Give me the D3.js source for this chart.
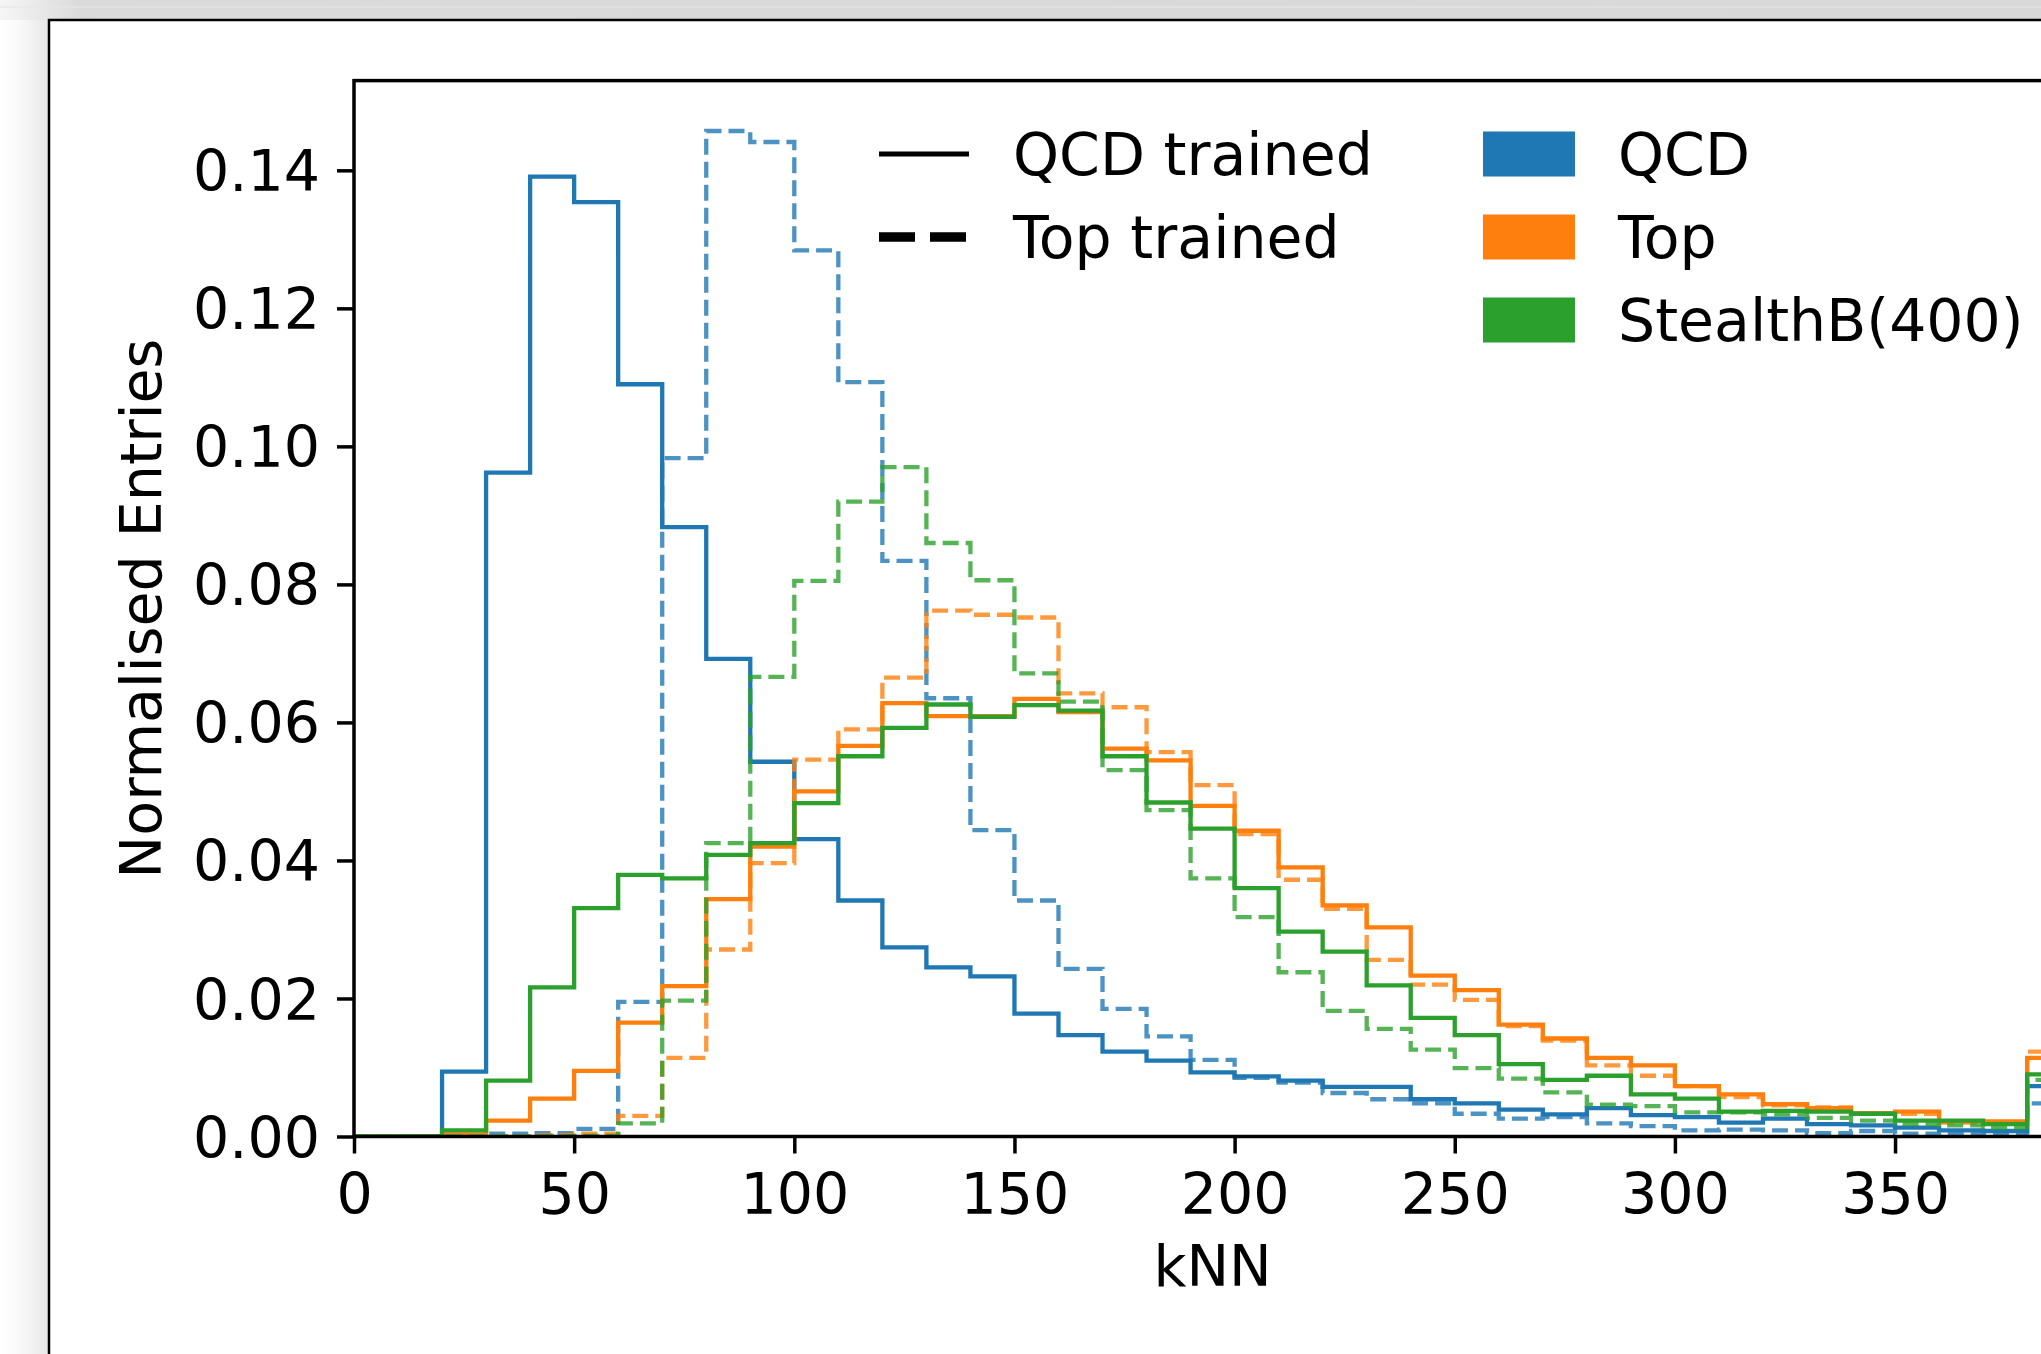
<!DOCTYPE html>
<html>
<head>
<meta charset="utf-8">
<title>kNN distributions</title>
<script src="https://cdn.jsdelivr.net/npm/d3@7"></script>
<style>
  body { margin: 0; background: #ffffff; }
  svg { display: block; font-family: "DejaVu Sans", sans-serif; }
</style>
</head>
<body>
<svg id="chart" width="2041" height="1354"></svg>
<script>
// bin edges of the kNN histograms (10 wide, last one is the overflow bin at 380)
const binEdges = [0, 10, 20, 30, 40, 50, 60, 70, 80, 90, 100, 110, 120, 130, 140, 150, 160, 170, 180, 190,
                  200, 210, 220, 230, 240, 250, 260, 270, 280, 290, 300, 310, 320, 330, 340, 350, 360, 370, 380, 390];

// normalised entries per bin
const qcdQcdTrained = [0, 0, 0.0094, 0.0962, 0.1391, 0.1354, 0.1090, 0.0883, 0.0692, 0.0543,
  0.0431, 0.0342, 0.0274, 0.0245, 0.0232, 0.0178, 0.0147, 0.0123, 0.0110, 0.0093,
  0.0087, 0.0081, 0.0072, 0.0072, 0.0054, 0.0048, 0.0039, 0.0032, 0.0041, 0.0031,
  0.0028, 0.0020, 0.0026, 0.0018, 0.0016, 0.0013, 0.0009, 0.0008, 0.0073];
const qcdTopTrained = [0, 0, 0, 0.0004, 0.0005, 0.0011, 0.0195, 0.0983, 0.1457, 0.1441,
  0.1284, 0.1093, 0.0834, 0.0635, 0.0444, 0.0342, 0.0243, 0.0185, 0.0145, 0.0111,
  0.0085, 0.0078, 0.0063, 0.0054, 0.0048, 0.0033, 0.0026, 0.0028, 0.0019, 0.0015,
  0.0009, 0.0010, 0.0009, 0.0005, 0.0008, 0.0004, 0.0005, 0.0004, 0.0048];
const topQcdTrained = [0, 0, 0.0003, 0.0023, 0.0055, 0.0095, 0.0165, 0.0218, 0.0344, 0.0420,
  0.0500, 0.0566, 0.0628, 0.0609, 0.0609, 0.0634, 0.0615, 0.0562, 0.0545, 0.0479,
  0.0443, 0.0390, 0.0335, 0.0303, 0.0233, 0.0212, 0.0162, 0.0142, 0.0114, 0.0103,
  0.0073, 0.0061, 0.0047, 0.0041, 0.0034, 0.0036, 0.0022, 0.0022, 0.0114];
const topTopTrained = [0, 0, 0, 0, 0.0002, 0.0004, 0.0030, 0.0114, 0.0271, 0.0396,
  0.0546, 0.0590, 0.0665, 0.0762, 0.0756, 0.0752, 0.0642, 0.0622, 0.0557, 0.0509,
  0.0438, 0.0372, 0.0330, 0.0256, 0.0220, 0.0198, 0.0160, 0.0139, 0.0103, 0.0088,
  0.0073, 0.0057, 0.0045, 0.0042, 0.0033, 0.0033, 0.0020, 0.0020, 0.0123];
const stealthQcdTrained = [0, 0, 0.0009, 0.0081, 0.0216, 0.0331, 0.0379, 0.0374, 0.0408, 0.0425,
  0.0483, 0.0551, 0.0592, 0.0626, 0.0608, 0.0625, 0.0617, 0.0551, 0.0484, 0.0446,
  0.0360, 0.0297, 0.0268, 0.0219, 0.0172, 0.0147, 0.0105, 0.0082, 0.0088, 0.0061,
  0.0055, 0.0036, 0.0037, 0.0036, 0.0033, 0.0023, 0.0023, 0.0018, 0.0090];
const stealthTopTrained = [0, 0, 0, 0, 0, 0.0001, 0.0019, 0.0197, 0.0425, 0.0666,
  0.0805, 0.0920, 0.0970, 0.0860, 0.0806, 0.0671, 0.0630, 0.0531, 0.0473, 0.0374,
  0.0318, 0.0238, 0.0182, 0.0156, 0.0126, 0.0099, 0.0084, 0.0064, 0.0046, 0.0044,
  0.0035, 0.0035, 0.0032, 0.0027, 0.0023, 0.0018, 0.0016, 0.0013, 0.0082];

const xTicks = [0, 50, 100, 150, 200, 250, 300, 350];
const yTicks = [0, 0.02, 0.04, 0.06, 0.08, 0.10, 0.12, 0.14];

const sampleNames = ["QCD", "Top", "StealthB(400)"];
const sampleColors = ["#1f77b4", "#ff7f0e", "#2ca02c"];
const trainingNames = ["QCD trained", "Top trained"];

const series = [
  { values: qcdQcdTrained, color: sampleColors[0], dashed: false },
  { values: qcdTopTrained, color: sampleColors[0], dashed: true },
  { values: topQcdTrained, color: sampleColors[1], dashed: false },
  { values: topTopTrained, color: sampleColors[1], dashed: true },
  { values: stealthQcdTrained, color: sampleColors[2], dashed: false },
  { values: stealthTopTrained, color: sampleColors[2], dashed: true }
];

const svg = d3.select("#chart");
const defs = svg.append("defs");

// grey window shadow round the figure panel
const gLeft = defs.append("linearGradient").attr("id", "shadeLeft")
  .attr("x1", 0).attr("x2", 1).attr("y1", 0).attr("y2", 0);
gLeft.append("stop").attr("offset", "0%").attr("stop-color", "#ffffff");
gLeft.append("stop").attr("offset", "35%").attr("stop-color", "#fafafa");
gLeft.append("stop").attr("offset", "100%").attr("stop-color", "#e8e8e8");

const gTop = defs.append("linearGradient").attr("id", "shadeTop")
  .attr("x1", 0).attr("x2", 1).attr("y1", 0).attr("y2", 0);
gTop.append("stop").attr("offset", "0%").attr("stop-color", "#f6f6f6");
gTop.append("stop").attr("offset", "4%").attr("stop-color", "#dadada");
gTop.append("stop").attr("offset", "100%").attr("stop-color", "#d8d8d8");

svg.append("rect").attr("x", 0).attr("y", 0).attr("width", 2041).attr("height", 1354).attr("fill", "#ffffff");
svg.append("rect").attr("x", 0).attr("y", 0).attr("width", 49).attr("height", 1354).attr("fill", "url(#shadeLeft)");
svg.append("rect").attr("x", 0).attr("y", 0).attr("width", 2041).attr("height", 20).attr("fill", "url(#shadeTop)");
svg.append("rect").attr("x", 0).attr("y", 6).attr("width", 2041).attr("height", 2).attr("fill", "#e6e6e6").attr("opacity", 0.6);

// the white figure panel
svg.append("rect")
  .attr("x", 49).attr("y", 20).attr("width", 2100).attr("height", 1400)
  .attr("fill", "#ffffff").attr("stroke", "#000").attr("stroke-width", 2.5);

// plot area
const plotLeft = 354, plotTop = 80.6, plotBottom = 1136.5;
const xScale = d3.scaleLinear().domain([0, 390]).range([plotLeft, plotLeft + 390 * 4.403]);
const yScale = d3.scaleLinear().domain([0, 0.153]).range([plotBottom, plotTop]);
const plotRight = xScale(390);

defs.append("clipPath").attr("id", "plotClip")
  .append("rect").attr("x", plotLeft).attr("y", plotTop)
  .attr("width", plotRight - plotLeft).attr("height", plotBottom - plotTop);

const stepLine = d3.line()
  .x(d => xScale(d[0]))
  .y(d => yScale(d[1]))
  .curve(d3.curveStepAfter);

function stepPoints(values) {
  const pts = [[binEdges[0], 0]];
  values.forEach((v, i) => pts.push([binEdges[i], v]));
  pts.push([binEdges[binEdges.length - 1], 0]);
  return pts;
}

const plot = svg.append("g").attr("clip-path", "url(#plotClip)");
plot.selectAll(".hist")
  .data(series)
  .enter()
  .append("path")
  .attr("class", "hist")
  .attr("d", d => stepLine(stepPoints(d.values)))
  .attr("fill", "none")
  .attr("stroke", d => d.color)
  .attr("stroke-width", 4.3)
  .attr("stroke-opacity", d => d.dashed ? 0.8 : 1)
  .attr("stroke-dasharray", d => d.dashed ? "16,7" : null)
  .attr("stroke-linejoin", "miter");

// axes
const xAxis = d3.axisBottom(xScale).tickValues(xTicks).tickSize(17).tickSizeOuter(0).tickPadding(20)
  .tickFormat(d3.format("d"));
const yAxis = d3.axisLeft(yScale).tickValues(yTicks).tickSize(17).tickSizeOuter(0).tickPadding(17)
  .tickFormat(d3.format(".2f"));

const gx = svg.append("g").attr("transform", `translate(0,${plotBottom})`).call(xAxis);
const gy = svg.append("g").attr("transform", `translate(${plotLeft},0)`).call(yAxis);

[gx, gy].forEach(g => {
  g.select(".domain").remove();
  g.selectAll(".tick line").attr("stroke", "#000").attr("stroke-width", 3.5);
  g.selectAll(".tick text").attr("fill", "#000").style("font-size", "57px").style("font-family", "DejaVu Sans");
});
gy.selectAll(".tick text").attr("dy", "0.36em");

// spines
svg.append("rect")
  .attr("x", plotLeft).attr("y", plotTop).attr("width", plotRight - plotLeft).attr("height", plotBottom - plotTop)
  .attr("fill", "none").attr("stroke", "#000").attr("stroke-width", 3.5);

// axis labels
svg.append("text")
  .attr("x", (plotLeft + plotRight) / 2).attr("y", 1286)
  .attr("text-anchor", "middle")
  .style("font-size", "57px")
  .text("kNN");

svg.append("text")
  .attr("transform", `translate(161,${(plotTop + plotBottom) / 2}) rotate(-90)`)
  .attr("text-anchor", "middle")
  .style("font-size", "57px")
  .text("Normalised Entries");

// legend for the training (line styles)
const legLines = svg.append("g");
trainingNames.forEach((name, i) => {
  const cy = 154 + i * 83;
  legLines.append("line")
    .attr("x1", 879).attr("x2", 969).attr("y1", cy).attr("y2", cy)
    .attr("stroke", "#000")
    .attr("stroke-width", i === 0 ? 5 : 9.5)
    .attr("stroke-dasharray", i === 0 ? null : "36,15");
  legLines.append("text")
    .attr("x", 1013).attr("y", cy + 21)
    .style("font-size", "58.5px")
    .text(name);
});

// legend for the samples (colour patches)
const legPatches = svg.append("g");
sampleNames.forEach((name, i) => {
  const cy = 154 + i * 83;
  legPatches.append("rect")
    .attr("x", 1483).attr("y", cy - 22.5).attr("width", 92).attr("height", 45)
    .attr("fill", sampleColors[i]);
  legPatches.append("text")
    .attr("x", 1618).attr("y", cy + 21)
    .style("font-size", "58.5px")
    .text(name);
});
</script>
</body>
</html>
